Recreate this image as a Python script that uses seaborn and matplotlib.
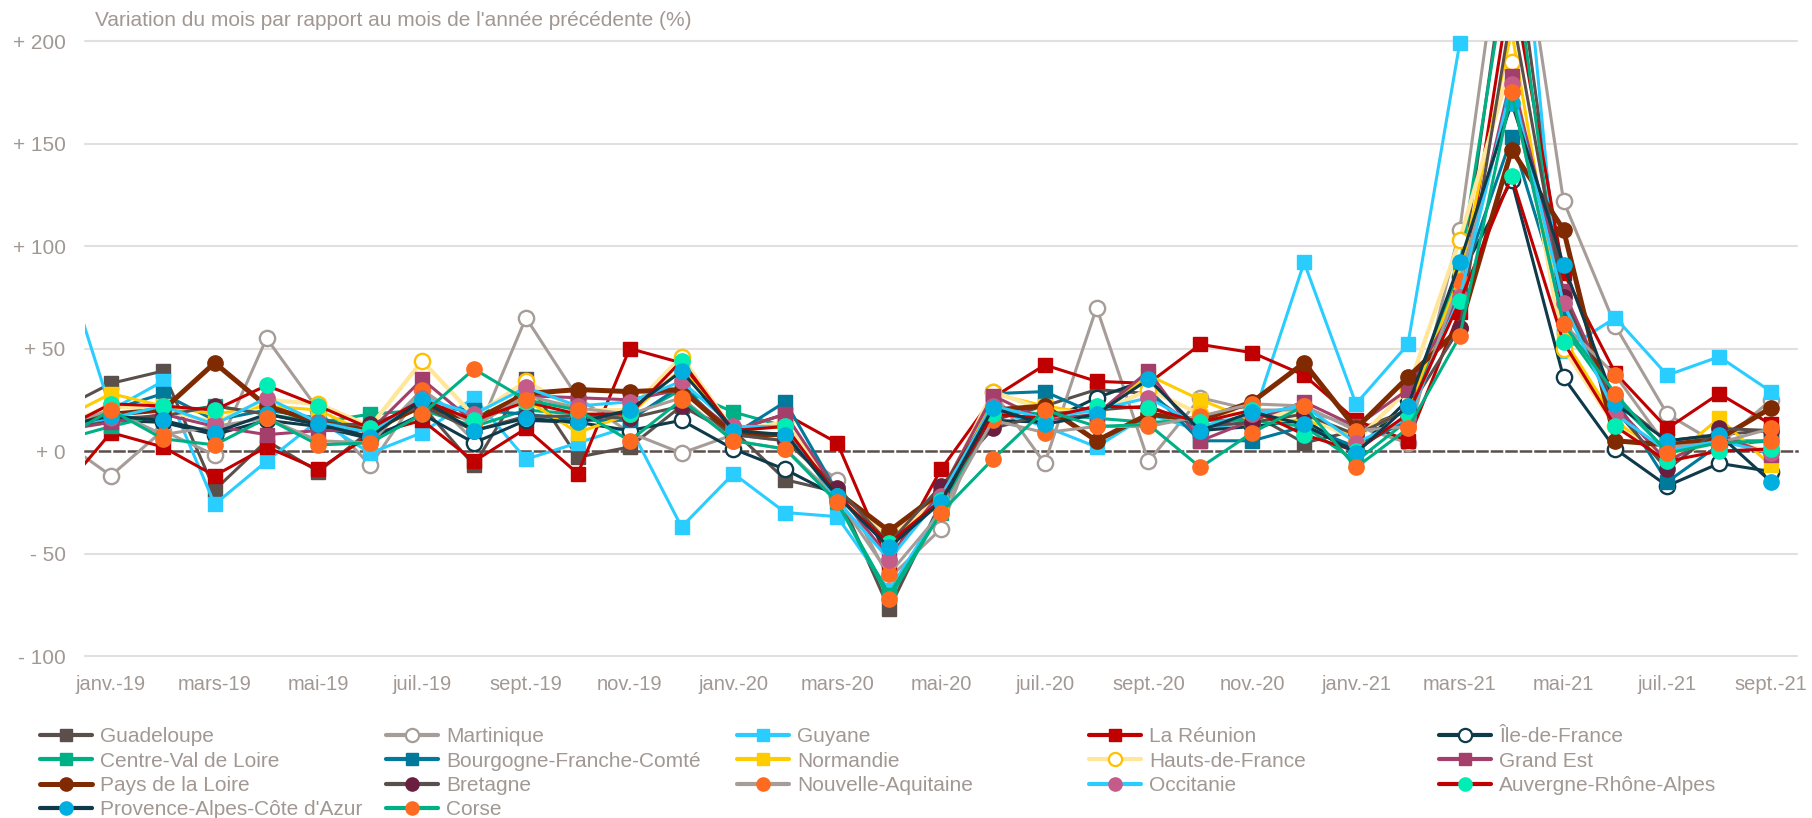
import numpy as np
import pandas as pd
import seaborn as sns
import matplotlib.pyplot as plt
from matplotlib.lines import Line2D

# déc.-18 is only there so that the lines enter from the left edge, like the original
mois = ['déc.-18',
        'janv.-19', 'févr.-19', 'mars-19', 'avr.-19', 'mai-19', 'juin-19',
        'juil.-19', 'août-19', 'sept.-19', 'oct.-19', 'nov.-19', 'déc.-19',
        'janv.-20', 'févr.-20', 'mars-20', 'avr.-20', 'mai-20', 'juin-20',
        'juil.-20', 'août-20', 'sept.-20', 'oct.-20', 'nov.-20', 'déc.-20',
        'janv.-21', 'févr.-21', 'mars-21', 'avr.-21', 'mai-21', 'juin-21',
        'juil.-21', 'août-21', 'sept.-21']

guadeloupe = [20, 33, 39, -19, 5, -10, 10, 22, -7, 35, -3, 2, 22, 10, -14, -20, -77, -25,
              15, 22, 30, 28, 10, 18, 4, 10, 20, 80, 260, 75, 25, 5, 8, 10]
martinique = [6, -12, 10, -2, 55, 20, -7, 30, 5, 65, 26, 9, -1, 8, 5, -14, -62, -38,
              29, -6, 70, -5, 26, 20, 20, 12, 4, 108, 290, 122, 61, 18, 3, 25]
guyane = [100, 20, 34, -26, -5, 15, -1, 9, 26, -4, 4, 12, -37, -11, -30, -32, -68, -28,
          20, 12, 2, 18, 10, 15, 92, 23, 52, 199, 320, 49, 65, 37, 46, 29]
la_reunion = [-21, 9, 2, -12, 2, -9, 8, 15, -5, 11, -11, 50, 43, 10, 18, 4, -55, -9,
              26, 42, 34, 33, 52, 48, 37, 15, 5, 68, 230, 87, 38, 11, 28, 13]
ile_de_france = [12, 15, 14, 8, 15, 12, 6, 18, 4, 15, 14, 10, 15, 1, -9, -22, -45, -25,
                 15, 14, 26, 35, 10, 12, 15, 0, 25, 85, 132, 36, 1, -17, -6, -10]
centre_val = [5, 12, 18, 22, 18, 14, 18, 20, 12, 20, 18, 16, 30, 19, 12, -25, -70, -30,
              20, 18, 16, 14, 15, 15, 12, -5, 15, 90, 250, 60, 25, 0, 5, 5]
bourgogne = [10, 20, 28, 15, 20, 16, 10, 22, 20, 18, 15, 15, 32, 8, 24, -20, -45, -22,
             28, 29, 18, 30, 5, 5, 12, 2, 15, 80, 153, 70, 25, -15, 3, 5]
normandie = [15, 28, 22, 18, 22, 20, 8, 23, 14, 25, 9, 18, 40, 10, 12, -22, -42, -25,
             28, 22, 18, 37, 25, 15, 15, 8, 20, 85, 205, 55, 15, -5, 16, -7]
hauts_de_france = [12, 22, 20, 14, 25, 23, 12, 44, 17, 34, 20, 20, 46, 10, 14, -20, -42, -22,
                   29, 20, 18, 30, 18, 18, 18, 5, 30, 103, 190, 50, 12, -3, 5, 0]
grand_est = [10, 14, 18, 12, 8, 10, 10, 35, 14, 27, 26, 25, 30, 10, 18, -20, -52, -20,
             27, 15, 18, 39, 5, 15, 24, 12, 30, 75, 183, 78, 22, -5, 8, -2]
pays_de_la_loire = [12, 18, 20, 43, 22, 14, 10, 22, 15, 28, 30, 29, 30, 8, 8, -20, -39, -20,
                    20, 22, 5, 18, 15, 24, 43, 11, 36, 60, 147, 108, 5, 3, 6, 21]
bretagne = [10, 16, 17, 22, 18, 13, 13, 22, 10, 17, 17, 16, 22, 8, 5, -18, -45, -17,
            11, 18, 20, 22, 12, 14, 18, 8, 20, 60, 215, 75, 20, -9, 11, 10]
nouvelle_aquitaine = [12, 20, 8, 12, 16, 5, 4, 30, 12, 27, 21, 18, 26, 5, 1, -23, -60, -30,
                      15, 9, 12, 12, 17, 23, 22, 10, 12, 83, 175, 62, 37, 2, 4, 11]
occitanie = [12, 16, 22, 13, 26, 14, 9, 26, 18, 31, 22, 24, 34, 12, 12, -24, -53, -22,
             22, 16, 20, 26, 12, 18, 22, 4, 16, 75, 179, 72, 18, 0, 5, -1]
auvergne = [10, 23, 22, 20, 32, 22, 11, 25, 15, 24, 18, 18, 44, 10, 12, -22, -45, -24,
            18, 16, 22, 21, 14, 20, 8, 0, 18, 73, 134, 53, 12, -5, 0, 1]
paca = [12, 17, 15, 9, 18, 13, 7, 25, 10, 16, 14, 20, 39, 10, 8, -22, -47, -25,
        21, 13, 18, 35, 10, 19, 13, -1, 22, 92, 170, 91, 23, 5, 8, -15]
corse = [5, 20, 6, 3, 16, 3, 4, 18, 40, 25, 20, 5, 25, 5, 1, -25, -72, -30,
         -4, 20, 12, 13, -8, 9, 22, -8, 11, 56, 175, 62, 28, -1, 4, 5]

series = {
    'Guadeloupe': guadeloupe,
    'Martinique': martinique,
    'Guyane': guyane,
    'La Réunion': la_reunion,
    'Île-de-France': ile_de_france,
    'Centre-Val de Loire': centre_val,
    'Bourgogne-Franche-Comté': bourgogne,
    'Normandie': normandie,
    'Hauts-de-France': hauts_de_france,
    'Grand Est': grand_est,
    'Pays de la Loire': pays_de_la_loire,
    'Bretagne': bretagne,
    'Nouvelle-Aquitaine': nouvelle_aquitaine,
    'Occitanie': occitanie,
    'Auvergne-Rhône-Alpes': auvergne,
    "Provence-Alpes-Côte d'Azur": paca,
    'Corse': corse,
}

# line colour, marker, face, edge, line width
styles = {
    'Guadeloupe': ('#5B4F4C', 's', '#5B4F4C', '#5B4F4C', 2.2),
    'Martinique': ('#A69C98', 'o', 'white', '#A69C98', 2.2),
    'Guyane': ('#2ACDFF', 's', '#2ACDFF', '#2ACDFF', 2.2),
    'La Réunion': ('#C00000', 's', '#C00000', '#C00000', 2.2),
    'Île-de-France': ('#0E3A4A', 'o', 'white', '#0E3A4A', 2.2),
    'Centre-Val de Loire': ('#00B085', 's', '#00B085', '#00B085', 2.2),
    'Bourgogne-Franche-Comté': ('#00799A', 's', '#00799A', '#00799A', 2.2),
    'Normandie': ('#FFCC00', 's', '#FFCC00', '#FFCC00', 2.2),
    'Hauts-de-France': ('#FFE699', 'o', 'white', '#FFC000', 3.0),
    'Grand Est': ('#A43F6C', 's', '#A43F6C', '#A43F6C', 2.2),
    'Pays de la Loire': ('#7F2A00', 'o', '#7F2A00', '#7F2A00', 3.6),
    'Bretagne': ('#5B4F4C', 'o', '#6A1F40', '#6A1F40', 2.2),
    'Nouvelle-Aquitaine': ('#A69C98', 'o', '#FF6A21', '#FF6A21', 2.2),
    'Occitanie': ('#2ACDFF', 'o', '#C45B89', '#C45B89', 2.2),
    'Auvergne-Rhône-Alpes': ('#C00000', 'o', '#00EDB5', '#00EDB5', 2.2),
    "Provence-Alpes-Côte d'Azur": ('#0E3A4A', 'o', '#00AEE0', '#00AEE0', 2.2),
    'Corse': ('#00B085', 'o', '#FF6A21', '#FF6A21', 2.2),
}

rows = []
for nom, vals in series.items():
    for i, v in enumerate(vals):
        rows.append({'region': nom, 'pos': i - 1, 'val': v})
df = pd.DataFrame(rows)

txt = '#A29893'
axis_col = '#5B4F4C'

sns.set_theme(style='white')
plt.rcParams['font.family'] = ['Liberation Sans', 'DejaVu Sans']

fig = plt.figure(figsize=(18.12, 8.18), dpi=100)
ax = fig.add_axes([0.0469, 0.198, 0.9448, 0.7518])

yt = [-100, -50, 0, 50, 100, 150, 200]
for g in yt:
    if g != 0:
        ax.axhline(g, color='#E4DFDF', lw=1.5, zorder=0, clip_on=False)


def marker_size(mk):
    return 10.2 if mk == 's' else 11


for nom in series:
    lc, mk, fc, ec, lw = styles[nom]
    d = df[df.region == nom]
    sns.lineplot(data=d, x='pos', y='val', color=lc, lw=lw, ax=ax,
                 estimator=None, sort=False, legend=False)
    m = d[(d.val <= 200) & (d.pos >= 0)]
    sns.lineplot(data=m, x='pos', y='val', ax=ax, color=ec, linestyle='',
                 marker=mk, markersize=marker_size(mk), markerfacecolor=fc,
                 markeredgecolor=ec, markeredgewidth=1.7 if fc == 'white' else 1,
                 estimator=None, sort=False, legend=False)
    ax.lines[-1].set_clip_on(False)

ax.set_xlim(-0.5, 32.5)
ax.set_ylim(-100, 200)
ax.set_xlabel('')
ax.set_ylabel('')

ax.set_yticks(yt, labels=['- 100', '- 50', '+ 0', '+ 50', '+ 100', '+ 150', '+ 200'])
ax.tick_params(axis='y', length=0, pad=14, labelsize=15, labelcolor=txt)

# dashed zero line carrying the small ticks
for s in ['top', 'left', 'right']:
    ax.spines[s].set_visible(False)
sp = ax.spines['bottom']
sp.set_position(('data', 0))
sp.set_linestyle((0, (4, 1.8)))
sp.set_color(axis_col)
sp.set_linewidth(1.8)
sp.set_zorder(1)
ax.set_xticks(np.arange(1.5, 32, 2))
ax.tick_params(axis='x', length=5, width=1.5, color=axis_col, labelbottom=False,
               direction='out')

# month labels at the bottom of the plot
sec = ax.secondary_xaxis(0)
sec.set_xticks(np.arange(0, 33, 2), labels=mois[1::2])
sec.tick_params(length=0, pad=14, labelsize=14.5, labelcolor=txt)
sec.spines['bottom'].set_visible(False)

ax.text(0.0058, 1.0 + 21 / 615,
        "Variation du mois par rapport au mois de l'année précédente (%)",
        transform=ax.transAxes, ha='left', va='center', fontsize=15, color=txt)

# legend, five fixed columns filled row by row
noms = list(series)
col_x = [40, 386, 737, 1089, 1439]
for k in range(5):
    handles = []
    for nom in noms[k::5]:
        lc, mk, fc, ec, lw = styles[nom]
        handles.append(Line2D([], [], color=lc, lw=max(lw, 3), marker=mk,
                              markersize=marker_size(mk) - 1.5, markerfacecolor=fc,
                              markeredgecolor=ec,
                              markeredgewidth=1.6 if fc == 'white' else 1))
    fig.legend(handles, noms[k::5], loc='upper left',
               bbox_to_anchor=(col_x[k] / 1812, 0.111), frameon=False,
               fontsize=15, labelcolor=txt, handlelength=2.5, handletextpad=0.4,
               labelspacing=0.26, borderpad=0, borderaxespad=0)

fig.savefig('out.png', dpi=100, facecolor='white')
